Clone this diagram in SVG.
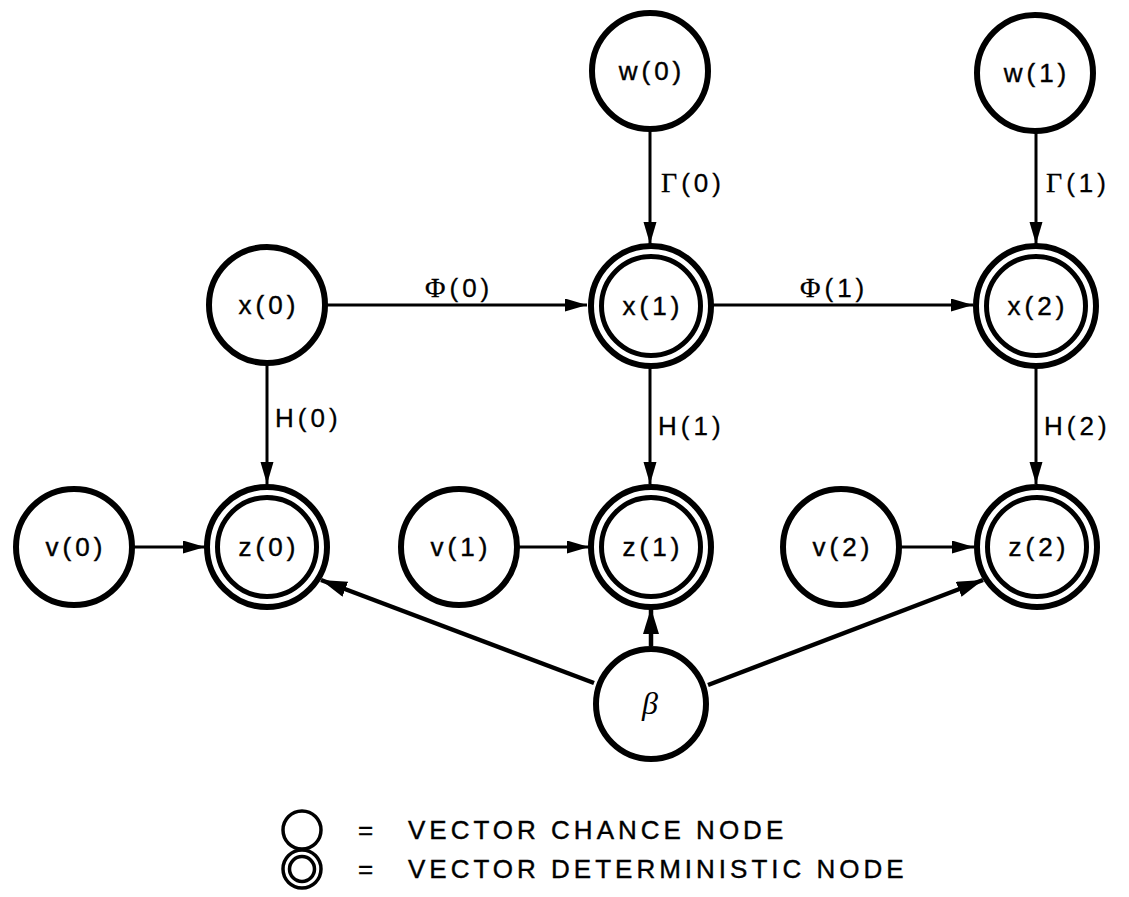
<svg xmlns="http://www.w3.org/2000/svg" width="1129" height="897" viewBox="0 0 1129 897">
  <defs>
    <style>
      .chance { fill: #fff; stroke: #000; stroke-width: 6; }
      .outer { fill: #fff; stroke: #000; stroke-width: 6; }
      .inner { fill: none; stroke: #000; stroke-width: 5; }
      .lbl { font-family: "Liberation Sans", Arial, sans-serif; font-size: 26px; letter-spacing: 4px; fill: #000; stroke: #000; stroke-width: 0.4; text-anchor: middle; }
      .elbl { font-family: "Liberation Sans", Arial, sans-serif; font-size: 26px; letter-spacing: 4px; fill: #000; stroke: #000; stroke-width: 0.3; }
      .greek { font-family: "Liberation Serif", "Times New Roman", serif; font-size: 28px; }
      .beta { font-family: "Liberation Serif", "Times New Roman", serif; font-style: italic; font-size: 32px; fill: #000; text-anchor: middle; }
      .edge { stroke: #000; stroke-width: 3; fill: none; marker-end: url(#arrow); }
      .edge-b { stroke: #000; stroke-width: 4.5; fill: none; marker-end: url(#arrowBig); }
      .legend { font-family: "Liberation Sans", Arial, sans-serif; font-size: 26px; letter-spacing: 4px; fill: #000; stroke: #000; stroke-width: 0.4; }
      .leg-c { fill: #fff; stroke: #000; stroke-width: 3.5; }
    </style>
    <marker id="arrow" markerUnits="userSpaceOnUse" markerWidth="22" markerHeight="14" refX="22" refY="6.5" orient="auto">
      <path d="M0,0 L22,6.5 L0,13 z" fill="#000"/>
    </marker>
    <marker id="arrowBig" markerUnits="userSpaceOnUse" markerWidth="26" markerHeight="18" refX="26" refY="8" orient="auto">
      <path d="M0,0 L26,8 L0,16 z" fill="#000"/>
    </marker>
  </defs>

  <!-- connectors and their labels -->
  <g id="connectors">
    <line class="edge" x1="650" y1="130" x2="650" y2="244"/>
    <line class="edge" x1="1036" y1="132" x2="1036" y2="244"/>
    <line class="edge" x1="327" y1="305" x2="587" y2="305"/>
    <line class="edge" x1="713" y1="305" x2="973" y2="305"/>
    <line class="edge" x1="267" y1="364" x2="267" y2="484"/>
    <line class="edge" x1="650" y1="368" x2="650" y2="484"/>
    <line class="edge" x1="1036" y1="368" x2="1036" y2="484"/>
    <line class="edge" x1="134" y1="547" x2="205" y2="547"/>
    <line class="edge" x1="518" y1="547" x2="589" y2="547"/>
    <line class="edge" x1="900" y1="547" x2="974" y2="547"/>
    <line class="edge-b" x1="594" y1="683" x2="321" y2="580"/>
    <line class="edge-b" x1="708" y1="685" x2="983" y2="580"/>
    <line class="edge-b" x1="651" y1="646" x2="651" y2="608"/>
    <text class="elbl" x="661" y="192"><tspan class="greek">Γ</tspan>(0)</text>
    <text class="elbl" x="1046" y="192"><tspan class="greek">Γ</tspan>(1)</text>
    <text class="elbl" x="425" y="297"><tspan class="greek">Φ</tspan>(0)</text>
    <text class="elbl" x="800" y="297"><tspan class="greek">Φ</tspan>(1)</text>
    <text class="elbl" x="275" y="427">H(0)</text>
    <text class="elbl" x="658" y="435">H(1)</text>
    <text class="elbl" x="1044" y="435">H(2)</text>
  </g>

  <!-- chance nodes -->
  <g id="w0"><circle class="chance" cx="650" cy="71" r="58"/><text class="lbl" x="652" y="80">w(0)</text></g>
  <g id="w1"><circle class="chance" cx="1035" cy="73" r="58"/><text class="lbl" x="1037" y="82">w(1)</text></g>
  <g id="x0"><circle class="chance" cx="267" cy="305" r="58"/><text class="lbl" x="269" y="314">x(0)</text></g>
  <g id="v0"><circle class="chance" cx="74" cy="547" r="58"/><text class="lbl" x="76" y="556">v(0)</text></g>
  <g id="v1"><circle class="chance" cx="459" cy="547" r="58"/><text class="lbl" x="461" y="556">v(1)</text></g>
  <g id="v2"><circle class="chance" cx="841" cy="547" r="58"/><text class="lbl" x="843" y="556">v(2)</text></g>
  <g id="beta"><circle class="chance" cx="651" cy="704" r="55"/><text class="beta" x="650" y="714">β</text></g>

  <!-- deterministic nodes -->
  <g id="x1"><circle class="outer" cx="651" cy="306" r="60"/><circle class="inner" cx="651" cy="306" r="49.5"/><text class="lbl" x="653" y="315">x(1)</text></g>
  <g id="x2"><circle class="outer" cx="1036" cy="306" r="60"/><circle class="inner" cx="1036" cy="306" r="49.5"/><text class="lbl" x="1038" y="315">x(2)</text></g>
  <g id="z0"><circle class="outer" cx="267" cy="547" r="60"/><circle class="inner" cx="267" cy="547" r="49.5"/><text class="lbl" x="269" y="556">z(0)</text></g>
  <g id="z1"><circle class="outer" cx="651" cy="547" r="60"/><circle class="inner" cx="651" cy="547" r="49.5"/><text class="lbl" x="653" y="556">z(1)</text></g>
  <g id="z2"><circle class="outer" cx="1037" cy="547" r="60"/><circle class="inner" cx="1037" cy="547" r="49.5"/><text class="lbl" x="1039" y="556">z(2)</text></g>

  <!-- legend -->
  <g id="legend">
    <circle class="leg-c" cx="302" cy="830" r="19"/>
    <circle class="leg-c" cx="302" cy="869" r="19"/>
    <circle class="leg-c" cx="302" cy="869" r="12.5"/>
    <text class="legend" x="358" y="839">=</text>
    <text class="legend" x="408" y="839">VECTOR CHANCE NODE</text>
    <text class="legend" x="358" y="878">=</text>
    <text class="legend" x="408" y="878">VECTOR DETERMINISTIC NODE</text>
  </g>
</svg>
